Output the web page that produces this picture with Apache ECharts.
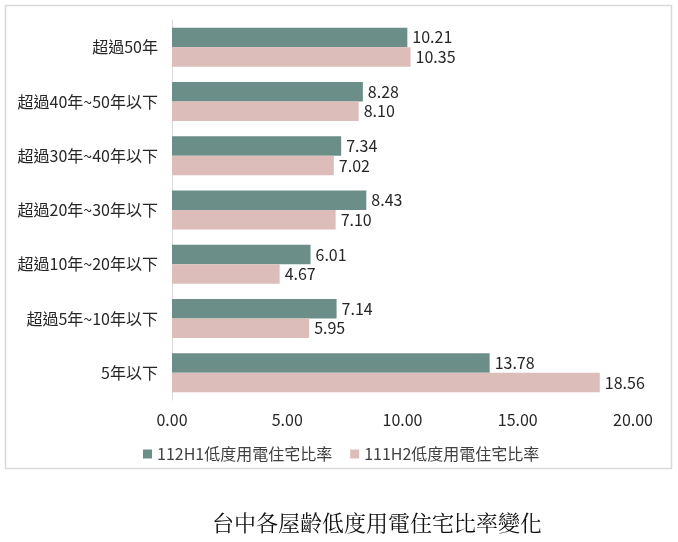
<!DOCTYPE html>
<html><head><meta charset="utf-8">
<script src="https://cdn.jsdelivr.net/npm/echarts@6/dist/echarts.min.js"></script>
<style>html,body{margin:0;padding:0;background:#fff}#c{width:678px;height:542px}</style>
</head><body><div id="c"></div>
<script>
const categories = ['超過50年','超過40年~50年以下','超過30年~40年以下','超過20年~30年以下','超過10年~20年以下','超過5年~10年以下','5年以下'];
const series112H1 = [10.21, 8.28, 7.34, 8.43, 6.01, 7.14, 13.78];
const series111H2 = [10.35, 8.10, 7.02, 7.10, 4.67, 5.95, 18.56];
const seriesNames = ['112H1低度用電住宅比率','111H2低度用電住宅比率'];
const xTicks = [0, 5, 10, 15, 20];
const titleText = '台中各屋齡低度用電住宅比率變化';

const font = '"Noto Sans CJK TC","Noto Sans",sans-serif';
const chart = echarts.init(document.getElementById('c'), null, {renderer:'canvas'});
const labelStyle = {show:true, position:'right', distance:5, color:'#262626', fontSize:16, fontFamily:font,
  formatter: p => p.value.toFixed(2)};
chart.setOption({
  animation:false,
  backgroundColor:'#fff',
  graphic:[{type:'rect', shape:{x:5.5,y:5.5,width:666,height:463}, style:{fill:'none', stroke:'#d9d9d9', lineWidth:1.5}, silent:true}],
  title:{text:titleText, left:207, top:507, textStyle:{fontFamily:'"Noto Serif CJK TC","Noto Sans CJK TC",serif', fontSize:22, fontWeight:'normal', color:'#111'}},
  legend:{data:seriesNames, top:441, left:138, itemWidth:9, itemHeight:9, itemGap:18, icon:'rect',
    textStyle:{fontFamily:font, fontSize:16, color:'#404040'}},
  grid:{left:172, right:45, top:20, bottom:142, containLabel:false},
  xAxis:{type:'value', min:xTicks[0], max:xTicks[xTicks.length-1], interval:5,
    axisLine:{show:false}, axisTick:{show:false}, splitLine:{show:false},
    axisLabel:{margin:12, color:'#262626', fontSize:16, fontFamily:font, formatter:v=>v.toFixed(2)}},
  yAxis:{type:'category', data:categories, inverse:true,
    axisLine:{show:true, lineStyle:{color:'#d9d9d9'}}, axisTick:{show:false},
    axisLabel:{margin:14, color:'#262626', fontSize:16, fontFamily:font}},
  series:[
    {name:seriesNames[0], type:'bar', data:series112H1, barWidth:19.5, barGap:'0%', itemStyle:{color:'#6b8f88'}, label:labelStyle},
    {name:seriesNames[1], type:'bar', data:series111H2, barWidth:19.5, itemStyle:{color:'#dcbdb9'}, label:labelStyle}
  ]
});
</script></body></html>
